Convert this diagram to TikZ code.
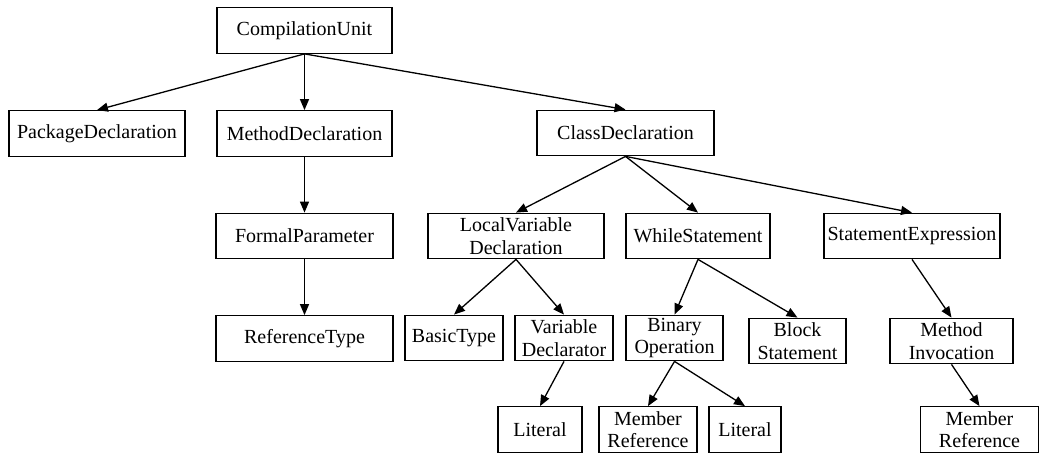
\documentclass[tikz,border=0pt]{standalone}
\usepackage{fontspec}
\setmainfont{Liberation Serif}
\usetikzlibrary{arrows.meta}
\begin{document}
\begin{tikzpicture}[x=1pt,y=-1pt,
  box/.style={draw,line width=1.3pt,rectangle,inner sep=0pt,align=center,
    font=\fontsize{20}{22.5}\selectfont,minimum height=45.5pt},
  edge/.style={line width=1.3pt,-{Triangle[length=11pt,width=9pt]}}]
\useasboundingbox (0,0) rectangle (1040,454);
\node[box,minimum width=175pt] (cu) at (304.5,30.5) {CompilationUnit};
\node[box,minimum width=176pt] (pd) at (97,133.5) {PackageDeclaration};
\node[box,minimum width=175pt] (md) at (304.5,133.5) {MethodDeclaration};
\node[box,minimum width=177pt] (cd) at (625.5,133) {ClassDeclaration};
\node[box,minimum width=177pt] (fp) at (304.5,236) {FormalParameter};
\node[box,minimum width=176pt] (lvd) at (516,236) {LocalVariable\\Declaration};
\node[box,minimum width=144pt] (ws) at (698,236) {WhileStatement};
\node[box,minimum width=176pt] (se) at (912,236) {StatementExpression};
\node[box,minimum width=177pt] (rt) at (304.5,338.5) {ReferenceType};
\node[box,minimum width=98pt] (bt) at (454,338) {BasicType};
\node[box,minimum width=98pt] (vd) at (564,338) {Variable\\Declarator};
\node[box,minimum width=97pt] (bo) at (674.5,338) {Binary\\Operation};
\node[box,minimum width=97pt] (bs) at (797.5,341) {Block\\Statement};
\node[box,minimum width=123pt] (mi) at (951.5,341) {Method\\Invocation};
\node[box,minimum width=84pt] (lit1) at (540,429.5) {Literal};
\node[box,minimum width=98pt] (mr1) at (648,429.5) {Member\\Reference};
\node[box,minimum width=72pt] (lit2) at (745,429.5) {Literal};
\node[box,minimum width=118pt] (mr2) at (979.5,429.5) {Member\\Reference};
\draw[edge] (cu.south) -- (pd.north);
\draw[edge] (cu.south) -- (md.north);
\draw[edge] (cu.south) -- (cd.north);
\draw[edge] (md.south) -- (fp.north);
\draw[edge] (fp.south) -- (rt.north);
\draw[edge] (cd.south) -- (lvd.north);
\draw[edge] (cd.south) -- (ws.north);
\draw[edge] (cd.south) -- (se.north);
\draw[edge] (lvd.south) -- (bt.north);
\draw[edge] (lvd.south) -- (vd.north);
\draw[edge] (ws.south) -- (bo.north);
\draw[edge] (ws.south) -- (bs.north);
\draw[edge] (se.south) -- (mi.north);
\draw[edge] (vd.south) -- (lit1.north);
\draw[edge] (bo.south) -- (mr1.north);
\draw[edge] (bo.south) -- (lit2.north);
\draw[edge] (mi.south) -- (mr2.north);
\end{tikzpicture}
\end{document}
